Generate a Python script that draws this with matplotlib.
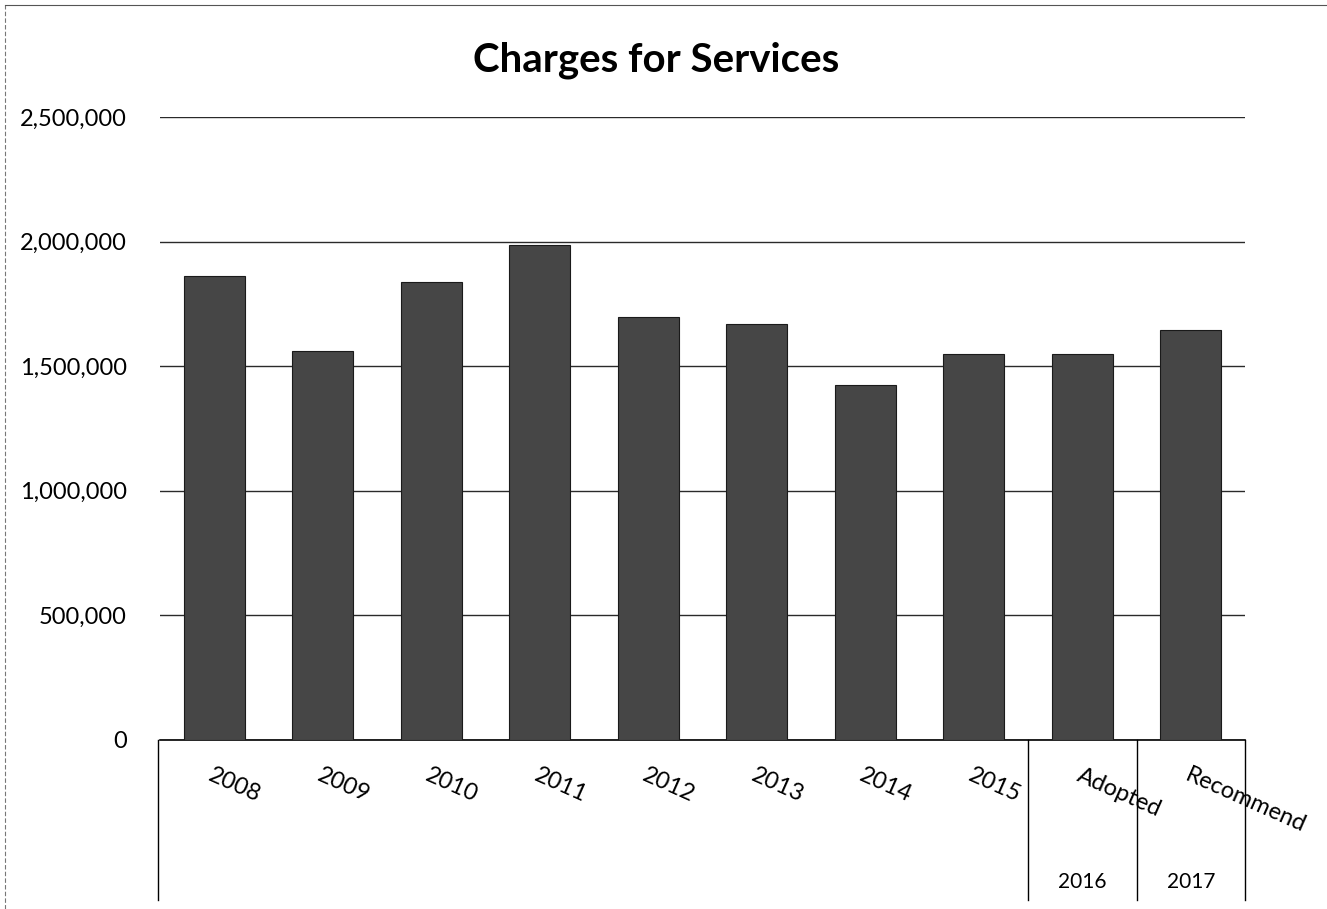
import matplotlib
matplotlib.use("Agg")
import matplotlib.pyplot as plt
import matplotlib.transforms as mtransforms
from matplotlib.lines import Line2D
from matplotlib.ticker import FuncFormatter

# values
categories = ["2008", "2009", "2010", "2011", "2012", "2013", "2014", "2015", "Adopted", "Recommend"]
charges = [1862000, 1561000, 1836000, 1986000, 1697000, 1669000, 1425000, 1549000, 1549000, 1645000]
group_labels = ["2016", "2017"]
group_pos = [8, 9]
yticks = [0, 500000, 1000000, 1500000, 2000000, 2500000]

plt.rcParams['font.family'] = ['Lato', 'DejaVu Sans']

W, H = 1327, 909
fig = plt.figure(figsize=(W / 100, H / 100), dpi=100)
ax = fig.add_axes([160 / W, 1 - 740 / H, (1245 - 160) / W, (740 - 117) / H])

x = list(range(len(categories)))
ax.bar(x, charges, width=0.56, color='#464646', edgecolor='#1a1a1a', linewidth=0.8, zorder=3)

ax.set_xlim(-0.5, len(categories) - 0.5)
ax.set_ylim(0, 2500000)
ax.set_yticks(yticks)
ax.yaxis.set_major_formatter(FuncFormatter(lambda v, p: "{:,}".format(int(v))))
ax.tick_params(axis='y', length=0, pad=24, labelsize=17)
ax.tick_params(axis='x', length=0)
ax.set_xticks([])
ax.grid(axis='y', color='#2a2a2a', linewidth=1.0, zorder=0)
ax.set_axisbelow(True)
for s in ['top', 'right', 'left']:
    ax.spines[s].set_visible(False)
ax.spines['bottom'].set_color('black')
ax.spines['bottom'].set_linewidth(1.2)

# rotated category labels
trans = mtransforms.blended_transform_factory(ax.transData, ax.transAxes)
for i, lab in enumerate(categories):
    ax.text(i - 0.04, -0.055, lab, transform=trans, rotation=-24, rotation_mode='anchor',
            ha='left', va='center', fontsize=17)

# second level (year groups) and separators
for g, p in zip(group_labels, group_pos):
    ax.text(p, -0.228, g, transform=trans, ha='center', va='center', fontsize=15)
for xs in [-0.52, 7.5, 8.5, 9.5]:
    ax.plot([xs, xs], [0, -0.257], transform=trans, color='black', lw=1, clip_on=False)

fig.suptitle("Charges for Services", x=(473 + 840) / 2 / W, y=1 - 60 / H,
             fontsize=29, fontweight='bold', va='center')

# faint scan border
fig.add_artist(Line2D([5 / W, 5 / W], [0, 1 - 5 / H], color='#777777', lw=0.8, linestyle=(0, (4, 2))))
fig.add_artist(Line2D([5 / W, 1], [1 - 5 / H, 1 - 5 / H], color='#555555', lw=0.8))

fig.savefig("out.png", dpi=100)
